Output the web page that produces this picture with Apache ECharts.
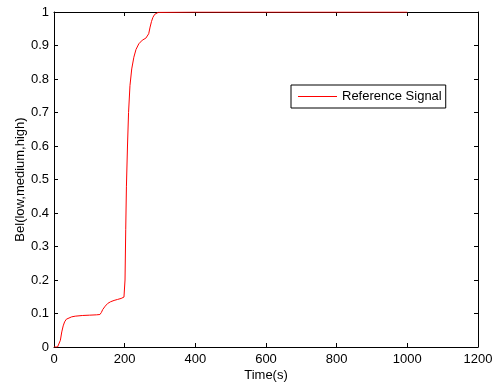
<!DOCTYPE html>
<html>
<head>
<meta charset="utf-8">
<script src="https://cdn.jsdelivr.net/npm/echarts@6/dist/echarts.min.js"></script>
<style>
  html, body { margin: 0; padding: 0; background: #fff; }
  #chart { width: 500px; height: 384px; }
</style>
</head>
<body>
<div id="chart"></div>
<script>
// time (s) and belief values
const times = [0, 10, 14, 18, 22, 26, 30, 35, 40, 50, 60, 80, 100, 120, 130,
	134, 138, 145, 152, 160, 170, 180, 190, 198, 200, 201, 203, 205, 208, 211,
	215, 220, 226, 232, 240, 250, 260, 265, 268, 272, 276, 280, 285, 290, 295,
	300, 400, 600, 800, 1000];
const belief = [0, 0, 0, 0.02, 0.045, 0.063, 0.075, 0.083, 0.087, 0.09, 0.092,
	0.094, 0.095, 0.096, 0.097, 0.103, 0.112, 0.122, 0.13, 0.135, 0.139, 0.142,
	0.145, 0.149, 0.15, 0.2, 0.35, 0.48, 0.6, 0.7, 0.78, 0.83, 0.865, 0.888,
	0.905, 0.916, 0.922, 0.925, 0.935, 0.955, 0.972, 0.984, 0.993, 0.997, 0.999,
	1, 1, 1, 1, 1];
const seriesName = "Reference Signal";

const chart = echarts.init(document.getElementById("chart"), null, {
	renderer: "canvas",
});

const font = "Liberation Sans, Arial, sans-serif";
const axisLine = { show: true, onZero: false, lineStyle: { color: "#000", width: 1 } };
const axisTick = { show: true, inside: true, length: 4, lineStyle: { color: "#000" } };

chart.setOption({
	animation: false,
	textStyle: { fontFamily: font },
	grid: { left: 54, top: 12, right: 22, bottom: 37, containLabel: false, outerBoundsMode: "none" },
	legend: {
		data: [seriesName],
		left: 291,
		top: 85,
		icon: "rect",
		itemWidth: 39,
		itemHeight: 1,
		padding: [5, 4, 5, 7],
		borderColor: "#000",
		borderWidth: 1,
		backgroundColor: "#fff",
		itemStyle: { color: "#ff0000", borderWidth: 0 },
		textStyle: { fontFamily: font, fontSize: 13, color: "#000" },
	},
	xAxis: [
		{
			type: "value",
			min: 0,
			max: 1200,
			interval: 200,
			name: "Time(s)",
			nameLocation: "middle",
			nameGap: 22,
			nameMoveOverlap: false,
			nameTextStyle: { fontFamily: font, fontSize: 13, color: "#000" },
			axisLine: axisLine,
			axisTick: axisTick,
			axisLabel: { fontFamily: font, fontSize: 13, color: "#000", margin: 6, formatter: (v) => String(v) },
			splitLine: { show: false },
		},
		{
			type: "value",
			position: "top",
			min: 0,
			max: 1200,
			interval: 200,
			axisLine: axisLine,
			axisTick: axisTick,
			axisLabel: { show: false },
			splitLine: { show: false },
		},
	],
	yAxis: [
		{
			type: "value",
			min: 0,
			max: 1,
			interval: 0.1,
			name: "Bel(low,medium,high)",
			nameLocation: "middle",
			nameGap: 27,
			nameMoveOverlap: false,
			nameTextStyle: { fontFamily: font, fontSize: 13, color: "#000" },
			axisLine: axisLine,
			axisTick: axisTick,
			axisLabel: { fontFamily: font, fontSize: 13, color: "#000", margin: 5 },
			splitLine: { show: false },
		},
		{
			type: "value",
			position: "right",
			min: 0,
			max: 1,
			interval: 0.1,
			axisLine: axisLine,
			axisTick: axisTick,
			axisLabel: { show: false },
			splitLine: { show: false },
		},
	],
	series: [
		{
			name: seriesName,
			type: "line",
			symbol: "none",
			data: times.map((t, i) => [t, belief[i]]),
			lineStyle: { color: "#ff0000", width: 1 },
			itemStyle: { color: "#ff0000" },
			z: 1,
		},
	],
});
</script>
</body>
</html>
